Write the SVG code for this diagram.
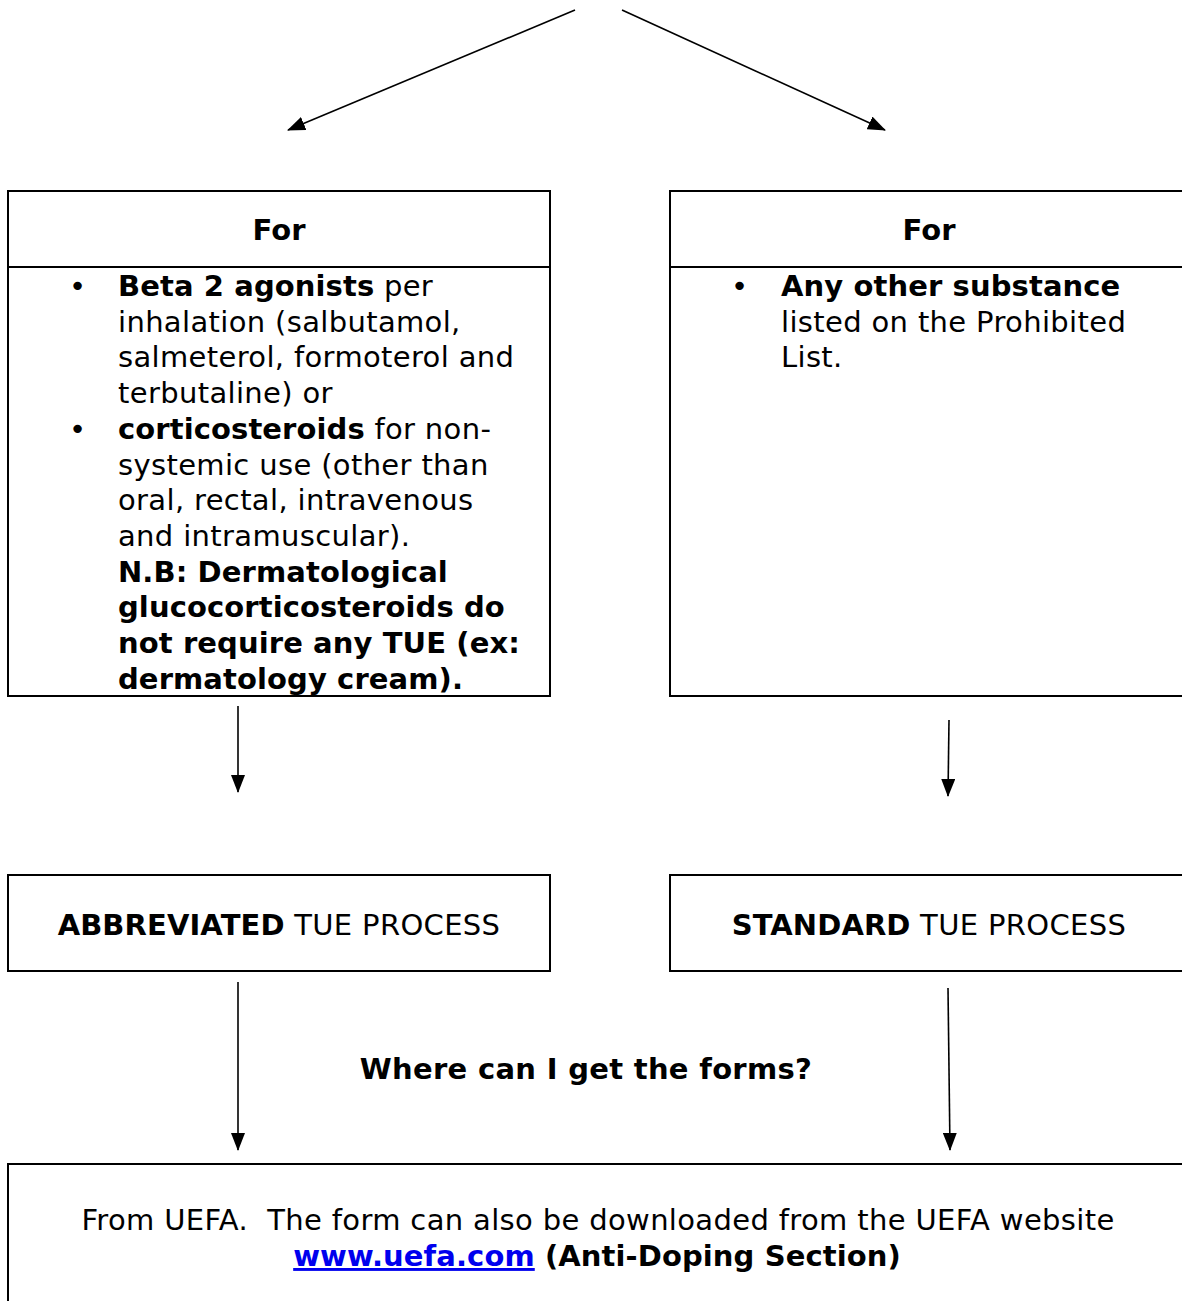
<svg xmlns="http://www.w3.org/2000/svg" width="1182" height="1301" viewBox="0 0 1182 1301">
<style>
  text { font-family: "DejaVu Sans", Verdana, sans-serif; font-size: 29px; fill: #000; letter-spacing: 0.35px; }
  .b { font-weight: bold; letter-spacing: 0.1px; }
  .c { text-anchor: middle; }
  .box { fill: none; stroke: #000; stroke-width: 2; }
  .conn { stroke: #000; stroke-width: 1.6; fill: none; marker-end: url(#ah); }
  .link { fill: #0000EE; text-decoration: underline; font-weight: bold; }
</style>
<defs>
  <marker id="ah" markerUnits="userSpaceOnUse" viewBox="0 0 18 14" refX="17" refY="7" markerWidth="18" markerHeight="14" orient="auto">
    <path d="M0,0 L18,7 L0,14 z" fill="#000"/>
  </marker>
</defs>

<g id="connectors">
  <line class="conn" x1="575" y1="10" x2="288" y2="130"/>
  <line class="conn" x1="622" y1="10" x2="885" y2="130"/>
  <line class="conn" x1="238" y1="706" x2="238" y2="792"/>
  <line class="conn" x1="949" y1="720" x2="948" y2="796"/>
  <line class="conn" x1="238" y1="982" x2="238" y2="1150"/>
  <line class="conn" x1="948" y1="988" x2="950" y2="1150"/>
</g>

<g id="node-left-for">
  <rect class="box" x="8" y="191" width="542" height="505"/>
  <line class="box" x1="8" y1="267" x2="550" y2="267"/>
  <text class="b c" x="279" y="240">For</text>
  <text x="69" y="296">•</text>
  <text x="118" y="296"><tspan class="b">Beta 2 agonists</tspan> per</text>
  <text x="118" y="331.7">inhalation (salbutamol,</text>
  <text x="118" y="367.4">salmeterol, formoterol and</text>
  <text x="118" y="403.1">terbutaline) or</text>
  <text x="69" y="438.8">•</text>
  <text x="118" y="438.8"><tspan class="b">corticosteroids</tspan> for non-</text>
  <text x="118" y="474.5">systemic use (other than</text>
  <text x="118" y="510.2">oral, rectal, intravenous</text>
  <text x="118" y="545.9">and intramuscular).</text>
  <text class="b" x="118" y="581.6">N.B: Dermatological</text>
  <text class="b" x="118" y="617.3">glucocorticosteroids do</text>
  <text class="b" x="118" y="653">not require any TUE (ex:</text>
  <text class="b" x="118" y="688.7">dermatology cream).</text>
</g>

<g id="node-right-for">
  <rect class="box" x="670" y="191" width="530" height="505"/>
  <line class="box" x1="670" y1="267" x2="1200" y2="267"/>
  <text class="b c" x="929" y="240">For</text>
  <text x="731" y="296">•</text>
  <text class="b" x="781" y="296">Any other substance</text>
  <text x="781" y="331.7">listed on the Prohibited</text>
  <text x="781" y="367.4">List.</text>
</g>

<g id="node-abbreviated">
  <rect class="box" x="8" y="875" width="542" height="96"/>
  <text class="c" x="279" y="935"><tspan class="b">ABBREVIATED</tspan> TUE PROCESS</text>
</g>

<g id="node-standard">
  <rect class="box" x="670" y="875" width="530" height="96"/>
  <text class="c" x="929" y="935"><tspan class="b">STANDARD</tspan> TUE PROCESS</text>
</g>

<g id="label-forms">
  <text class="b c" x="586" y="1079" style="letter-spacing:0.3px">Where can I get the forms?</text>
</g>

<g id="node-uefa">
  <rect class="box" x="8" y="1164" width="1200" height="200"/>
  <text class="c" x="598" y="1230" xml:space="preserve">From UEFA.  The form can also be downloaded from the UEFA website</text>
  <text class="c b" x="597" y="1266"><tspan class="link">www.uefa.com</tspan> (Anti-Doping Section)</text>
</g>
</svg>
